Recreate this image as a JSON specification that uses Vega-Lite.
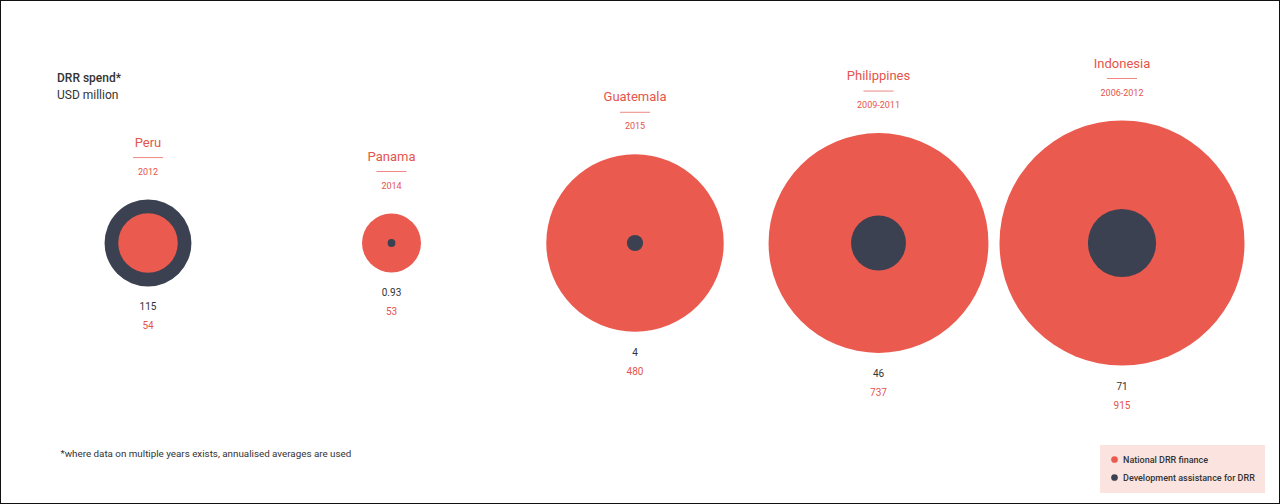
{
  "$schema": "https://vega.github.io/schema/vega-lite/v6.json",
  "width": 1280,
  "height": 504,
  "autosize": {"type": "none"},
  "padding": 0,
  "background": "white",
  "config": {"view": {"stroke": "#111111", "strokeWidth": 2}, "font": "Roboto"},
  "title": {
    "text": "DRR spend*",
    "subtitle": "USD million",
    "anchor": "start",
    "frame": "group",
    "orient": "top",
    "offset": -102,
    "dx": 57,
    "fontSize": 12,
    "fontWeight": 500,
    "color": "#333333",
    "subtitleFontSize": 12,
    "subtitleColor": "#333333",
    "subtitlePadding": 5
  },
  "data": {
    "values": [
      {"country": "Peru", "period": "2012", "type": "National DRR finance", "value": 54, "label": "54"},
      {"country": "Peru", "period": "2012", "type": "Development assistance for DRR", "value": 115, "label": "115"},
      {"country": "Panama", "period": "2014", "type": "National DRR finance", "value": 53, "label": "53"},
      {"country": "Panama", "period": "2014", "type": "Development assistance for DRR", "value": 0.93, "label": "0.93"},
      {"country": "Guatemala", "period": "2015", "type": "National DRR finance", "value": 480, "label": "480"},
      {"country": "Guatemala", "period": "2015", "type": "Development assistance for DRR", "value": 4, "label": "4"},
      {"country": "Philippines", "period": "2009-2011", "type": "National DRR finance", "value": 737, "label": "737"},
      {"country": "Philippines", "period": "2009-2011", "type": "Development assistance for DRR", "value": 46, "label": "46"},
      {"country": "Indonesia", "period": "2006-2012", "type": "National DRR finance", "value": 915, "label": "915"},
      {"country": "Indonesia", "period": "2006-2012", "type": "Development assistance for DRR", "value": 71, "label": "71"}
    ]
  },
  "transform": [
    {"joinaggregate": [{"op": "max", "field": "value", "as": "outer"}], "groupby": ["country"]}
  ],
  "encoding": {
    "x": {
      "field": "country",
      "type": "nominal",
      "sort": ["Peru", "Panama", "Guatemala", "Philippines", "Indonesia"],
      "scale": {"type": "point", "range": [148, 1122], "padding": 0},
      "axis": {
        "title": "*where data on multiple years exists, annualised averages are used",
        "labels": false,
        "ticks": false,
        "domain": false,
        "grid": false,
        "titleAnchor": "start",
        "titleAlign": "left",
        "titleBaseline": "middle",
        "titleX": 60,
        "titleY": -51,
        "titleFontSize": 9.8,
        "titleFontWeight": "normal",
        "titleColor": "#333333"
      }
    }
  },
  "layer": [
    {
      "mark": {"type": "point", "filled": true, "opacity": 1, "strokeWidth": 0, "shape": "circle"},
      "encoding": {
        "y": {"datum": 0, "type": "quantitative", "scale": {"type": "sqrt", "domain": [0, 915], "range": [243, 120.5]}, "axis": null},
        "size": {"field": "value", "type": "quantitative", "scale": {"type": "linear", "domain": [0, 915], "range": [0, 60024], "zero": true}, "legend": null},
        "color": {
          "field": "type",
          "type": "nominal",
          "scale": {"domain": ["National DRR finance", "Development assistance for DRR"], "range": ["#ea5a4e", "#3b4150"]},
          "legend": {
            "title": null,
            "orient": "none",
            "legendX": 1100,
            "legendY": 445,
            "fillColor": "#fbe4e0",
            "padding": 10,
            "labelFontSize": 9,
            "labelFontWeight": 500,
            "labelColor": "#333333",
            "symbolSize": 45,
            "symbolType": "circle",
            "symbolStrokeWidth": 0,
            "rowPadding": 8
          }
        },
        "order": {"field": "value", "type": "quantitative", "sort": "descending"}
      }
    },
    {
      "transform": [{"filter": "datum.type === 'National DRR finance'"}],
      "mark": {"type": "text", "fontSize": 13, "color": "#e4554b", "baseline": "middle"},
      "encoding": {
        "y": {"field": "outer", "type": "quantitative", "scale": {"type": "sqrt", "domain": [0, 915], "range": [186, 63.5]}, "axis": null},
        "text": {"field": "country"}
      }
    },
    {
      "transform": [{"filter": "datum.type === 'National DRR finance'"}],
      "mark": {"type": "tick", "color": "#e4554b", "thickness": 1, "size": 30, "orient": "horizontal"},
      "encoding": {
        "y": {"field": "outer", "type": "quantitative", "scale": {"type": "sqrt", "domain": [0, 915], "range": [201, 78.5]}, "axis": null}
      }
    },
    {
      "transform": [{"filter": "datum.type === 'National DRR finance'"}],
      "mark": {"type": "text", "fontSize": 9, "color": "#e4554b", "baseline": "middle"},
      "encoding": {
        "y": {"field": "outer", "type": "quantitative", "scale": {"type": "sqrt", "domain": [0, 915], "range": [215, 92.5]}, "axis": null},
        "text": {"field": "period"}
      }
    },
    {
      "transform": [{"filter": "datum.type === 'Development assistance for DRR'"}],
      "mark": {"type": "text", "fontSize": 10, "color": "#333333", "baseline": "middle"},
      "encoding": {
        "y": {"field": "outer", "type": "quantitative", "scale": {"type": "sqrt", "domain": [0, 915], "range": [264, 386.5]}, "axis": null},
        "text": {"field": "label"}
      }
    },
    {
      "transform": [{"filter": "datum.type === 'National DRR finance'"}],
      "mark": {"type": "text", "fontSize": 10, "color": "#e4554b", "baseline": "middle"},
      "encoding": {
        "y": {"field": "outer", "type": "quantitative", "scale": {"type": "sqrt", "domain": [0, 915], "range": [283, 405.5]}, "axis": null},
        "text": {"field": "label"}
      }
    }
  ],
  "resolve": {"scale": {"y": "independent"}}
}
